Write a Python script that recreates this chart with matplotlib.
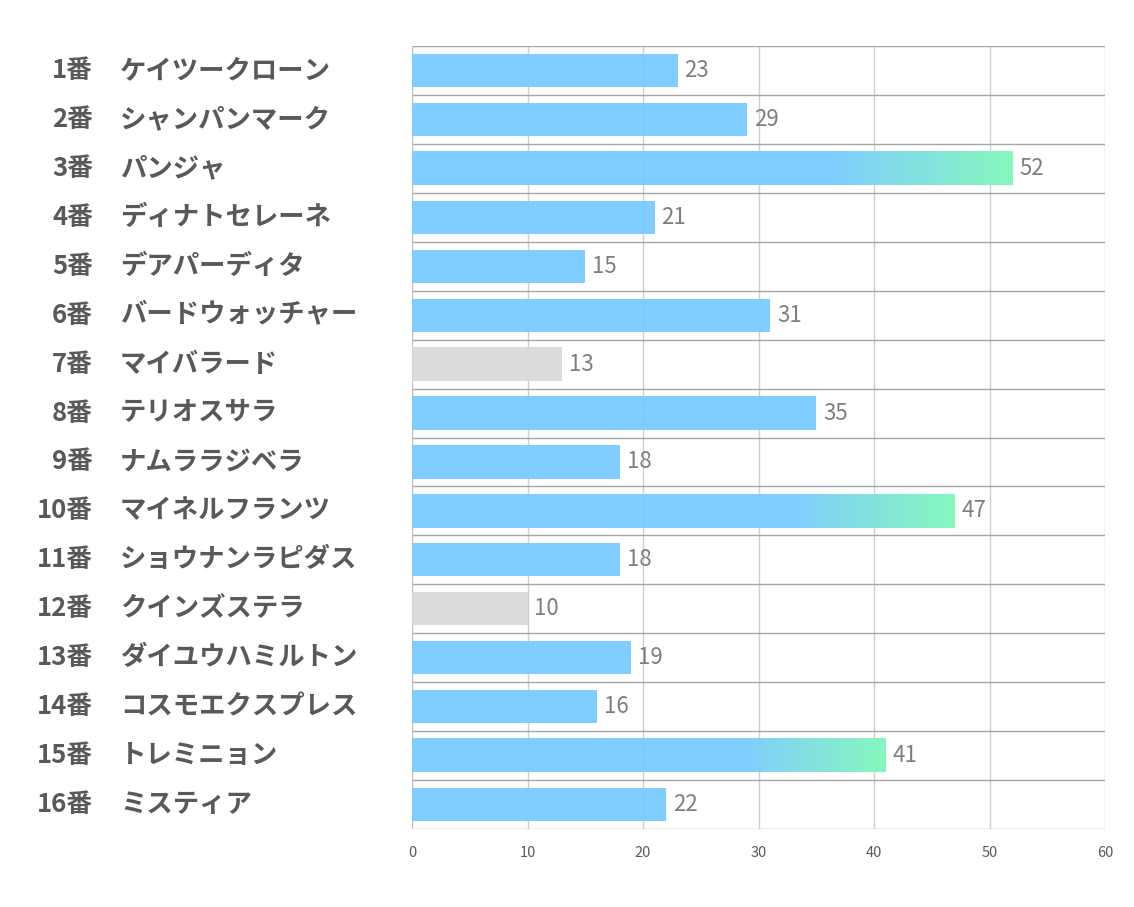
import numpy as np
import matplotlib
matplotlib.use("Agg")
import matplotlib.pyplot as plt
from matplotlib.transforms import blended_transform_factory

plt.rcParams['font.family'] = ['Noto Sans CJK JP', 'DejaVu Sans']

# data
numbers = ["1番", "2番", "3番", "4番", "5番", "6番", "7番", "8番",
           "9番", "10番", "11番", "12番", "13番", "14番", "15番", "16番"]
names = ["ケイツークローン", "シャンパンマーク", "パンジャ", "ディナトセレーネ",
         "デアパーディタ", "バードウォッチャー", "マイバラード", "テリオスサラ",
         "ナムララジベラ", "マイネルフランツ", "ショウナンラピダス", "クインズステラ",
         "ダイユウハミルトン", "コスモエクスプレス", "トレミニョン", "ミスティア"]
values = [23, 29, 52, 21, 15, 31, 13, 35, 18, 47, 18, 10, 19, 16, 41, 22]
x_ticks = [0, 10, 20, 30, 40, 50, 60]

blue = "#79CBFF"
green = "#80F8BA"
gray = "#D9D9D9"

order = np.argsort(values)
top3 = set(order[-3:])
low2 = set(order[:2])

fig = plt.figure(figsize=(11.34, 9.07), dpi=100)
ax = fig.add_axes([412 / 1134, 1 - 829 / 907, (1105 - 412) / 1134, (829 - 46) / 907])

n = len(values)
bar_h = 0.68
c1 = np.array(matplotlib.colors.to_rgb(blue))
c2 = np.array(matplotlib.colors.to_rgb(green))

for i, v in enumerate(values):
    if i in low2:
        ax.barh(i, v, height=bar_h, color=gray, alpha=0.95, zorder=2)
    elif i in top3:
        # solid blue for the first 70 %, then fade to green
        t = np.linspace(0, 1, 400)
        w = np.clip((t - 0.7) / 0.3, 0, 1)[None, :, None]
        grad = c1 + (c2 - c1) * w
        ax.imshow(grad, extent=(0, v, i + bar_h / 2, i - bar_h / 2),
                  aspect='auto', zorder=2, alpha=0.95, interpolation='bilinear')
    else:
        ax.barh(i, v, height=bar_h, color=blue, alpha=0.95, zorder=2)
    ax.text(v + 0.6, i, str(v), va='center', ha='left', fontsize=16,
            color="#7F7F7F", zorder=4)

ax.set_xlim(0, 60)
ax.set_ylim(n - 0.5, -0.5)
ax.set_xticks(x_ticks)
ax.set_yticks([])
ax.tick_params(axis='x', length=0, labelsize=10.5, labelcolor="#595959", pad=12)

# grid
for x in x_ticks[1:]:
    ax.axvline(x, color="#D0D0D0", lw=1, zorder=1)
for k in range(n + 1):
    ax.axhline(k - 0.5, color="#A6A6A6", lw=1, zorder=1)
for s in ax.spines.values():
    s.set_visible(False)
ax.axvline(0, color="#BFBFBF", lw=1, zorder=1)

tr = blended_transform_factory(fig.transFigure, ax.transData)
for i in range(n):
    fig.text(93 / 1134, i, numbers[i], transform=tr, ha='right', va='center',
             fontsize=18.5, fontweight='bold', color="#595959")
    fig.text(120 / 1134, i, names[i], transform=tr, ha='left', va='center',
             fontsize=19, fontweight='bold', color="#595959")

fig.savefig("out.png", dpi=100, facecolor="white")
